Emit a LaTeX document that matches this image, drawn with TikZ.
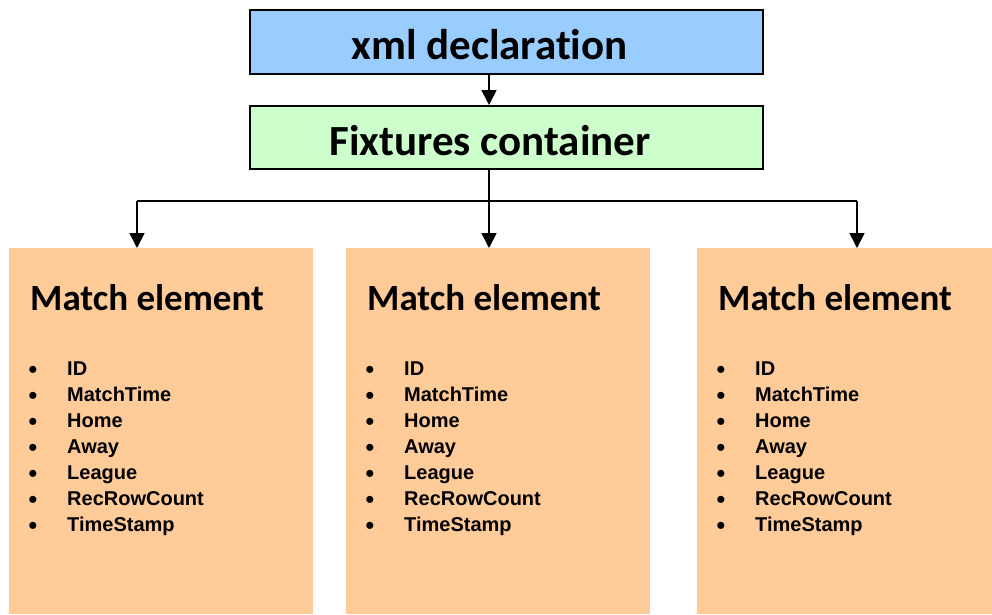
\documentclass[tikz,border=0pt]{standalone}
\usepackage{fontspec}
\setmainfont{Carlito}[Ligatures=NoCommon]
\newfontfamily\arialfont{Liberation Sans}
\usetikzlibrary{arrows.meta,calc}
\definecolor{xmlblue}{HTML}{99CCFF}
\definecolor{fixgreen}{HTML}{CCFFCC}
\definecolor{matchorange}{HTML}{FFCC99}
\begin{document}
\begin{tikzpicture}[x=1pt,y=-1pt,
  topbox/.style={draw=black,line width=1.7pt,minimum width=513pt,inner sep=0pt,anchor=north west},
  headtext/.style={anchor=base,inner sep=0pt,font=\bfseries\fontsize{43}{48}\selectfont},
  matchbox/.style={fill=matchorange,inner sep=0pt,anchor=north west,minimum height=366pt},
  matchtitle/.style={anchor=base west,inner sep=0pt,font=\bfseries\fontsize{37}{44}\selectfont},
  itemtext/.style={anchor=base west,inner sep=0pt,font=\arialfont\bfseries\fontsize{20}{26}\selectfont},
  bullettext/.style={anchor=base,inner sep=0pt,font=\arialfont\fontsize{26}{26}\selectfont},
  conn/.style={line width=1.7pt,-{Triangle[length=15pt,width=15pt]}},
  link/.style={line width=1.7pt}]
\useasboundingbox (0,0) rectangle (992,614);

% top boxes
\node[topbox,fill=xmlblue,minimum height=64pt] (xml) at (249,9) {};
\node[headtext] (xmltext) at (489.5,59) {xml declaration};
\node[topbox,fill=fixgreen,minimum height=63pt] (fix) at (249,105) {};
\node[headtext] (fixtext) at (490,155) {Fixtures container};

% match boxes
\node[matchbox,minimum width=304pt] (m1) at (9,248) {};
\node[matchbox,minimum width=304pt] (m2) at (346,248) {};
\node[matchbox,minimum width=295pt] (m3) at (697,248) {};

\foreach \b/\lx in {m1/9,m2/346,m3/697}{
  \node[matchtitle] (\b title) at (\lx+21,310) {Match element};
  \foreach \t [count=\i from 0] in {ID,MatchTime,Home,Away,League,RecRowCount,TimeStamp}{
    \node[bullettext] (\b bul\i) at (\lx+24,378+26*\i) {•};
    \node[itemtext] (\b item\i) at (\lx+58,375.5+26*\i) {\t};
  }
}

% connectors
\coordinate (a1) at (137,0);
\coordinate (a2) at (489,0);
\coordinate (a3) at (857,0);
\coordinate (bar) at (0,201);
\draw[conn] (a2 |- xml.south) -- (a2 |- fix.north);
\draw[link] (a2 |- fix.south) -- (a2 |- bar);
\draw[link] (a1 |- bar) -- (a3 |- bar);
\draw[conn] (a1 |- bar) -- (a1 |- m1.north);
\draw[conn] (a2 |- bar) -- (a2 |- m2.north);
\draw[conn] (a3 |- bar) -- (a3 |- m3.north);
\end{tikzpicture}
\end{document}
